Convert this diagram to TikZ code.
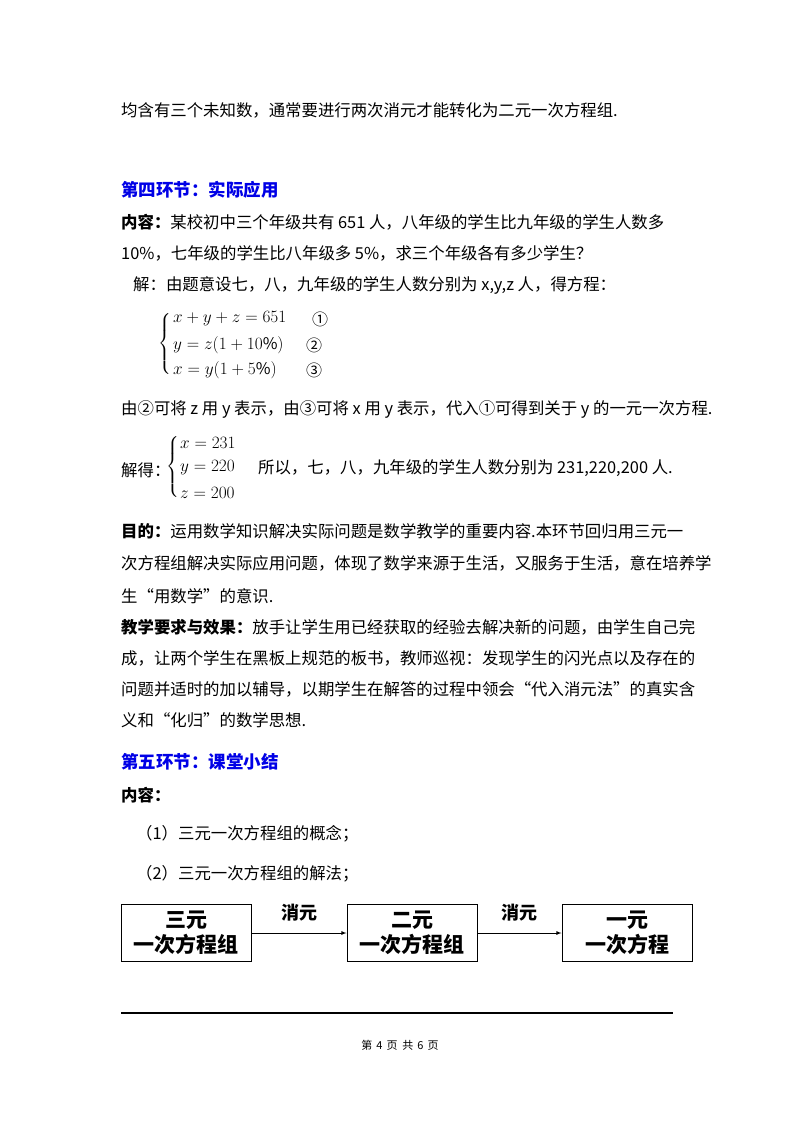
\documentclass[tikz,border=0pt]{standalone}
\usepackage{amsmath}
\usepackage{fontspec}
\setmainfont{Noto Sans CJK SC}
\begin{document}
\begin{tikzpicture}[x=1pt,y=-1pt,
  tl/.style={anchor=west,inner sep=0pt,font=\fontsize{16.4}{19}\selectfont},
  hd/.style={anchor=west,inner sep=0pt,font=\fontsize{17.5}{20}\selectfont\bfseries,text={rgb,255:red,0;green,0;blue,230}},
  eq/.style={anchor=west,inner sep=0pt,font=\fontsize{16}{19}\selectfont},
  box/.style={draw,line width=1pt,minimum width=130pt,minimum height=57pt,align=center,inner sep=0pt,font=\fontsize{21}{25}\selectfont\bfseries},
  lab/.style={font=\fontsize{18}{21}\selectfont\bfseries},
  arr/.style={-latex,line width=0.8pt}]
\useasboundingbox (0,0) rectangle (800,1132);
\node[tl] (l1) at (121,110) {均含有三个未知数，通常要进行两次消元才能转化为二元一次方程组.};
\node[hd] (h4) at (121,190) {第四环节：实际应用};
\node[tl] (l2) at (121,222) {\textbf{内容：}某校初中三个年级共有 651 人，八年级的学生比九年级的学生人数多};
\node[tl] (l3) at (121,253) {10\%，七年级的学生比八年级多 5\%，求三个年级各有多少学生？};
\node[tl] (l4) at (133,285) {解：由题意设七，八，九年级的学生人数分别为 x,y,z 人，得方程：};
\node[inner sep=0pt] (br1) at (165,345) {\fontsize{15}{18}\selectfont$\left\{\vrule height 29pt depth 29pt width 0pt\right.$};
\node[eq] (e1) at (173,319) {$x+y+z=651$};
\node[eq] (e2) at (173,345) {$y=z(1+10\%)$};
\node[eq] (e3) at (173,370) {$x=y(1+5\%)$};
\node[eq] (c1) at (312,319) {①};
\node[eq] (c2) at (306,345) {②};
\node[eq] (c3) at (306,370) {③};
\node[tl] (l5) at (121,409) {由②可将 z 用 y 表示，由③可将 x 用 y 表示，代入①可得到关于 y 的一元一次方程.};
\node[tl] (l6) at (121,470) {解得：};
\node[inner sep=0pt] (br2) at (173,468) {\fontsize{15}{18}\selectfont$\left\{\vrule height 29pt depth 29pt width 0pt\right.$};
\node[eq] (s1) at (180,443) {$x=231$};
\node[eq] (s2) at (180,468) {$y=220$};
\node[eq] (s3) at (180,493) {$z=200$};
\node[tl] (l7) at (258,468) {所以，七，八，九年级的学生人数分别为 231,220,200 人.};
\node[tl] (l8) at (121,531) {\textbf{目的：}运用数学知识解决实际问题是数学教学的重要内容.本环节回归用三元一};
\node[tl] (l9) at (121,563) {次方程组解决实际应用问题，体现了数学来源于生活，又服务于生活，意在培养学};
\node[tl] (l10) at (121,596) {生“用数学”的意识.};
\node[tl] (l11) at (121,627) {\textbf{教学要求与效果：}放手让学生用已经获取的经验去解决新的问题，由学生自己完};
\node[tl] (l12) at (121,658) {成，让两个学生在黑板上规范的板书，教师巡视：发现学生的闪光点以及存在的};
\node[tl] (l13) at (121,689) {问题并适时的加以辅导，以期学生在解答的过程中领会“代入消元法”的真实含};
\node[tl] (l14) at (121,720) {义和“化归”的数学思想.};
\node[hd] (h5) at (121,762) {第五环节：课堂小结};
\node[tl] (l15) at (121,795) {\textbf{内容：}};
\node[tl] (l16) at (136,834) {（1）三元一次方程组的概念；};
\node[tl] (l17) at (136,874) {（2）三元一次方程组的解法；};
\node[box] (b1) at (186,933) {三元\\一次方程组};
\node[box] (b2) at (412,933) {二元\\一次方程组};
\node[box] (b3) at (627,933) {一元\\一次方程};
\draw[arr] (b1) -- node[lab,above=8pt] (m1) {消元} (b2);
\draw[arr] (b2) -- node[lab,above=8pt] (m2) {消元} (b3);
\coordinate (r1) at (121,1013);
\coordinate (r2) at (673,1013);
\draw[line width=1.2pt] (r1) -- (r2);
\node[inner sep=0pt,font=\fontsize{11}{13}\selectfont] (ft) at (400,1045) {第\hspace{4pt}4\hspace{4pt}页\hspace{5pt}共\hspace{4pt}6\hspace{4pt}页};
\end{tikzpicture}
\end{document}
